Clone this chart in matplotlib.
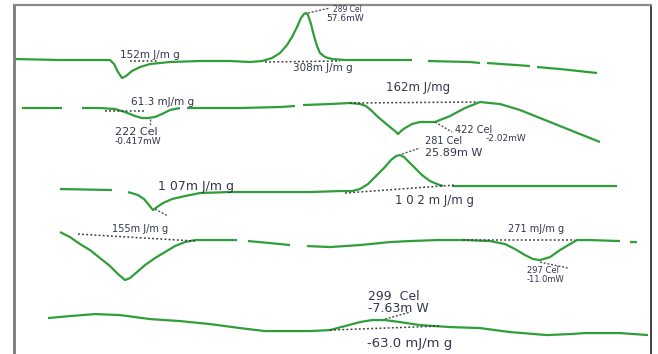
import numpy as np
import matplotlib
matplotlib.use("Agg")
import matplotlib.pyplot as plt

nan = np.nan

# DSC traces, stacked; x is temperature position, y is plot offset (down = endo)
c1_x = [14, 60, 110, 114, 118, 122, 126, 132, 140, 150, 170, 200, 230, 250, 262, 272, 280,
        287, 292, 297, 301, 304, 306, 308, 311, 314, 317, 320, 325, 332, 345, 370, 400, 412,
        nan, 428, 470, 480, nan, 487, 530, nan, 537, 560, 597]
c1_y = [59, 60, 60, 64, 72, 78, 76, 71, 67, 64, 62, 61, 61, 62, 61, 58, 53,
        45, 37, 27, 18, 14, 13, 15, 24, 36, 46, 53, 57, 59, 60, 60, 60, 60,
        nan, 61, 62, 63, nan, 63, 66, nan, 67, 69, 73]

c2_x = [22, 62, nan, 82, 100, 115, 125, 135, 142, 148, 155, 162, 170, 180, nan, 187, 200, 240,
        280, 295, nan, 303, 330, 350, 360, 366, 372, 378, 384, 390, 395, 398, 401, 405, 412,
        420, 435, 450, 465, 480, 500, 520, 540, 560, 580, 600]
c2_y = [108, 108, nan, 108, 108, 109, 112, 116, 118, 118, 117, 114, 110, 108, nan, 108, 108, 108,
        107, 106, nan, 105, 104, 103, 104, 106, 111, 117, 122, 127, 131, 134, 131, 128, 124,
        122, 122, 116, 108, 102, 104, 110, 118, 126, 134, 142]

c3_x = [60, 112, nan, 128, 138, 144, 149, 153, 157, 163, 172, 185, 200, 230, 270, 310, 340,
        352, 360, 368, 376, 384, 391, 396, 400, 404, 409, 415, 422, 430, 437, 443, nan, 452,
        500, 560, 617]
c3_y = [189, 190, nan, 192, 195, 199, 205, 210, 207, 203, 199, 196, 193, 192, 192, 192, 191,
        191, 189, 184, 176, 168, 160, 156, 155, 157, 162, 168, 175, 181, 184, 186, nan, 186,
        186, 186, 186]

c4_x = [60, 70, 80, 90, 100, 110, 118, 125, 130, 137, 145, 155, 165, 175, 185, 195, 215, 237,
        nan, 248, 270, 290, nan, 307, 330, 360, 390, 410, 437, 465, 490, 505, 515, 525, 533,
        540, 550, 560, 570, 577, 590, 620, nan, 630, 637]
c4_y = [232, 237, 244, 250, 258, 266, 274, 280, 278, 272, 265, 258, 252, 246, 242, 240, 240, 240,
        nan, 241, 243, 245, nan, 246, 247, 245, 242, 241, 240, 240, 241, 244, 249, 255, 259,
        260, 257, 250, 244, 240, 240, 241, nan, 242, 242]

c5_x = [48, 70, 95, 120, 150, 180, 210, 240, 265, 290, 310, 330, 345, 360, 372, 385, 400, 420,
        450, 480, 510, 547, 570, 585, 620, 648]
c5_y = [318, 316, 314, 315, 319, 321, 324, 328, 331, 331, 331, 330, 326, 322, 320, 320, 322, 325,
        327, 328, 332, 335, 334, 333, 333, 335]

traces = [(c1_x, c1_y), (c2_x, c2_y), (c3_x, c3_y), (c4_x, c4_y), (c5_x, c5_y)]

# integration baselines (x0, y0, x1, y1)
baselines = [(130, 61, 158, 61), (265, 62, 340, 61), (105, 111, 145, 111), (350, 103, 478, 102),
             (345, 193, 455, 185), (78, 234, 195, 241), (463, 240, 575, 240), (330, 330, 440, 326)]

# peak leaders (from peak, to label)
leaders = [(308, 13, 330, 8), (150, 119, 150, 126), (435, 122, 452, 132), (402, 154, 420, 148),
           (155, 209, 168, 216), (540, 262, 568, 268), (385, 319, 410, 312)]

# annotation texts
ann_text = ["152m J/m g", "289 Cel", "57.6mW", "308m J/m g",
            "61.3 mJ/m g", "222 Cel", "-0.417mW", "162m J/mg",
            "422 Cel", "-2.02mW", "281 Cel", "25.89m W",
            "1 07m J/m g", "1 0 2 m J/m g",
            "155m J/m g", "271 mJ/m g", "297 Cel", "-11.0mW",
            "299  Cel", "-7.63m W", "-63.0 mJ/m g"]
ann_x = [120, 333, 326, 293,
         131, 115, 115, 386,
         455, 486, 425, 425,
         158, 395,
         112, 508, 527, 527,
         368, 368, 367]
ann_y = [55, 9, 18, 68,
         102, 132, 141, 87,
         130, 138, 141, 153,
         186, 200,
         229, 229, 270, 279,
         296, 308, 343]
ann_size = [7.5, 5.5, 6.5, 7.5,
            7.5, 8, 6.5, 8.5,
            7, 6.5, 7, 8,
            9, 8.5,
            7, 7, 6, 6,
            9, 9, 9.5]

fig = plt.figure(figsize=(6.58, 3.54), dpi=100)
ax = fig.add_axes([14 / 658, -0.02, 637 / 658, 1 - 5 / 354 + 0.02])
ax.set_xlim(14, 651)
ax.set_ylim(361, 5)

for xs, ys in traces:
    ax.plot(xs, ys, color="#2f9e3a", lw=1.6, solid_capstyle="butt")

for x0, y0, x1, y1 in baselines:
    ax.plot([x0, x1], [y0, y1], color="#3a3a3a", lw=1.1, ls=(0, (1.2, 1.5)))

for x0, y0, x1, y1 in leaders:
    ax.plot([x0, x1], [y0, y1], color="#555555", lw=1.0, ls=(0, (1.5, 1.2)))

for t, x, y, s in zip(ann_text, ann_x, ann_y, ann_size):
    ax.text(x, y, t, fontsize=s, color="#33364f", ha="left", va="center",
            family="DejaVu Sans")

ax.set_xticks([])
ax.set_yticks([])
ax.spines["bottom"].set_visible(False)
ax.spines["left"].set_color("#7a7a7a")
ax.spines["left"].set_linewidth(2.0)
ax.spines["top"].set_color("#8a8a8a")
ax.spines["top"].set_linewidth(1.6)
ax.spines["right"].set_color("#333333")
ax.spines["right"].set_linewidth(1.3)

fig.savefig("out.png", dpi=100)
